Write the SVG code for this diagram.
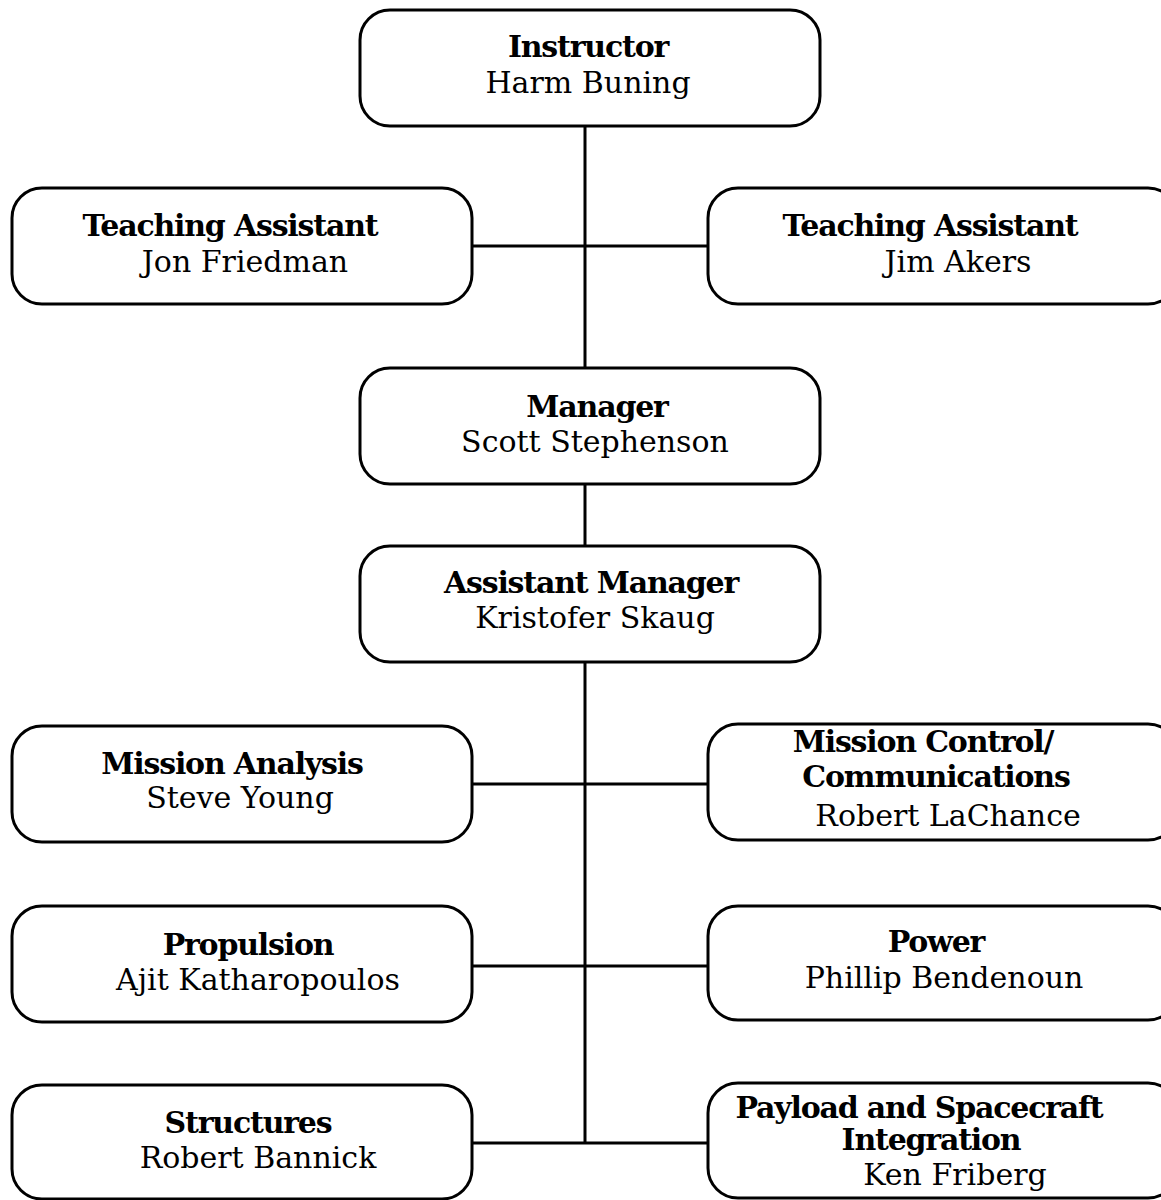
<svg xmlns="http://www.w3.org/2000/svg" width="1161" height="1200" viewBox="0 0 1161 1200">
<style>
.box{fill:#fff;stroke:#000;stroke-width:3}
.ln{stroke:#000;stroke-width:3;fill:none}
text{font-family:"DejaVu Serif","Liberation Serif",serif;font-size:30px;text-anchor:middle;fill:#000}
.t{font-weight:bold;letter-spacing:-1.2px}
</style>
<rect width="1161" height="1200" fill="#fff"/>
<g id="connectors">
<path class="ln" d="M585 126V368M472 246H708M585 484V546M585 662V1143M472 784H708M472 966H708M472 1143H708"/>
</g>
<g id="instructor"><rect class="box" x="360" y="10" width="460" height="116" rx="30"/><text class="t" x="588" y="57">Instructor</text><text x="588" y="93">Harm Buning</text></g>
<g id="ta1"><rect class="box" x="12" y="188" width="460" height="116" rx="30"/><text class="t" x="230" y="236">Teaching Assistant</text><text x="245" y="272">Jon Friedman</text></g>
<g id="ta2"><rect class="box" x="708" y="188" width="470" height="116" rx="30"/><text class="t" x="930" y="236">Teaching Assistant</text><text x="958" y="272">Jim Akers</text></g>
<g id="manager"><rect class="box" x="360" y="368" width="460" height="116" rx="30"/><text class="t" x="597" y="417">Manager</text><text x="595" y="452">Scott Stephenson</text></g>
<g id="asstmanager"><rect class="box" x="360" y="546" width="460" height="116" rx="30"/><text class="t" x="591" y="593">Assistant Manager</text><text x="595" y="628">Kristofer Skaug</text></g>
<g id="mission-analysis"><rect class="box" x="12" y="726" width="460" height="116" rx="30"/><text class="t" x="232" y="774">Mission Analysis</text><text x="240" y="808">Steve Young</text></g>
<g id="mission-control"><rect class="box" x="708" y="724" width="470" height="116" rx="30"/><text class="t" x="923" y="752">Mission Control/</text><text class="t" x="936" y="787">Communications</text><text x="948" y="826">Robert LaChance</text></g>
<g id="propulsion"><rect class="box" x="12" y="906" width="460" height="116" rx="30"/><text class="t" x="248" y="955">Propulsion</text><text x="258" y="990">Ajit Katharopoulos</text></g>
<g id="power"><rect class="box" x="708" y="906" width="470" height="114" rx="30"/><text class="t" x="936" y="952">Power</text><text x="944" y="988">Phillip Bendenoun</text></g>
<g id="structures"><rect class="box" x="12" y="1085" width="460" height="114" rx="30"/><text class="t" x="248" y="1133">Structures</text><text x="258" y="1168">Robert Bannick</text></g>
<g id="payload"><rect class="box" x="708" y="1083" width="470" height="115" rx="30"/><text class="t" x="919" y="1118">Payload and Spacecraft</text><text class="t" x="931" y="1150">Integration</text><text x="955" y="1185">Ken Friberg</text></g>
</svg>
